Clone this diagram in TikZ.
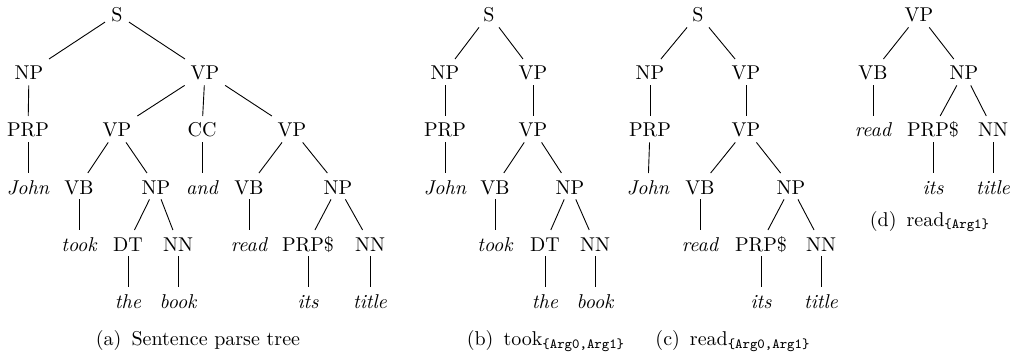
\documentclass[tikz,border=0pt]{standalone}
\usepackage{tikz}
\newcommand{\argsub}[1]{$_{\mbox{\fontsize{7}{8}\selectfont\ttfamily\{#1\}}}$}

\begin{document}
\begin{tikzpicture}[x=0.5pt,y=-0.5pt]
	\tikzset{
		tg/.style={anchor=base, inner xsep=3pt, inner ysep=2.5pt,
			text height=0.78em, text depth=0pt},
		wd/.style={tg, font=\itshape},
		br/.style={draw=black, line width=0.45pt},
		capt/.style={anchor=base, inner sep=0pt}
	}
	\useasboundingbox (0,0) rectangle (1012,358);

	% (a) sentence parse tree
	\node[tg] (aS) at (117,22) {S};
	\node[tg] (aNP) at (29,80) {NP};
	\node[tg] (aVP) at (205,80) {VP};
	\node[tg] (aPRP) at (28,137) {PRP};
	\node[tg] (aVPl) at (117,137) {VP};
	\node[tg] (aCC) at (202,137) {CC};
	\node[tg] (aVPr) at (292,137) {VP};
	\node[wd] (aJohn) at (28,194) {John};
	\node[tg] (aVBl) at (79,194) {VB};
	\node[tg] (aNPl) at (156,194) {NP};
	\node[wd] (aAnd) at (202,194) {and};
	\node[tg] (aVBr) at (249,194) {VB};
	\node[tg] (aNPr) at (338,194) {NP};
	\node[wd] (aTook) at (79,251) {took};
	\node[tg] (aDT) at (128,251) {DT};
	\node[tg] (aNNl) at (178,251) {NN};
	\node[wd] (aRead) at (249,251) {read};
	\node[tg] (aPRPS) at (308,251) {PRP\$};
	\node[tg] (aNNr) at (370,251) {NN};
	\node[wd] (aThe) at (128,308) {the};
	\node[wd] (aBook) at (178,308) {book};
	\node[wd] (aIts) at (308,308) {its};
	\node[wd] (aTitle) at (370,308) {title};

	\draw[br] (aS)--(aNP); \draw[br] (aS)--(aVP);
	\draw[br] (aNP)--(aPRP); \draw[br] (aPRP)--(aJohn);
	\draw[br] (aVP)--(aVPl); \draw[br] (aVP)--(aCC); \draw[br] (aVP)--(aVPr);
	\draw[br] (aVPl)--(aVBl); \draw[br] (aVPl)--(aNPl);
	\draw[br] (aVBl)--(aTook);
	\draw[br] (aNPl)--(aDT); \draw[br] (aNPl)--(aNNl);
	\draw[br] (aDT)--(aThe); \draw[br] (aNNl)--(aBook);
	\draw[br] (aCC)--(aAnd);
	\draw[br] (aVPr)--(aVBr); \draw[br] (aVPr)--(aNPr);
	\draw[br] (aVBr)--(aRead);
	\draw[br] (aNPr)--(aPRPS); \draw[br] (aNPr)--(aNNr);
	\draw[br] (aPRPS)--(aIts); \draw[br] (aNNr)--(aTitle);
	\node[capt] (capA) at (198,345) {(a)\enspace Sentence parse tree};

	% (b) took
	\node[tg] (bS) at (489,22) {S};
	\node[tg] (bNP) at (445,80) {NP};
	\node[tg] (bVP) at (533,80) {VP};
	\node[tg] (bPRP) at (445,137) {PRP};
	\node[tg] (bVPi) at (533,137) {VP};
	\node[wd] (bJohn) at (445,194) {John};
	\node[tg] (bVB) at (495,194) {VB};
	\node[tg] (bNPi) at (570,194) {NP};
	\node[wd] (bTook) at (495,251) {took};
	\node[tg] (bDT) at (545,251) {DT};
	\node[tg] (bNN) at (595,251) {NN};
	\node[wd] (bThe) at (545,308) {the};
	\node[wd] (bBook) at (595,308) {book};

	\draw[br] (bS)--(bNP); \draw[br] (bS)--(bVP);
	\draw[br] (bNP)--(bPRP); \draw[br] (bPRP)--(bJohn);
	\draw[br] (bVP)--(bVPi);
	\draw[br] (bVPi)--(bVB); \draw[br] (bVPi)--(bNPi);
	\draw[br] (bVB)--(bTook);
	\draw[br] (bNPi)--(bDT); \draw[br] (bNPi)--(bNN);
	\draw[br] (bDT)--(bThe); \draw[br] (bNN)--(bBook);
	\node[capt] (capB) at (546,345) {(b)\enspace took\argsub{Arg0,Arg1}};

	% (c) read, both args
	\node[tg] (cS) at (698,22) {S};
	\node[tg] (cNP) at (650,80) {NP};
	\node[tg] (cVP) at (746,80) {VP};
	\node[tg] (cPRP) at (650,137) {PRP};
	\node[tg] (cVPi) at (746,137) {VP};
	\node[wd] (cJohn) at (648,194) {John};
	\node[tg] (cVB) at (700,194) {VB};
	\node[tg] (cNPi) at (791,194) {NP};
	\node[wd] (cRead) at (700,251) {read};
	\node[tg] (cPRPS) at (761,251) {PRP\$};
	\node[tg] (cNN) at (821,251) {NN};
	\node[wd] (cIts) at (761,308) {its};
	\node[wd] (cTitle) at (821,308) {title};

	\draw[br] (cS)--(cNP); \draw[br] (cS)--(cVP);
	\draw[br] (cNP)--(cPRP); \draw[br] (cPRP)--(cJohn);
	\draw[br] (cVP)--(cVPi);
	\draw[br] (cVPi)--(cVB); \draw[br] (cVPi)--(cNPi);
	\draw[br] (cVB)--(cRead);
	\draw[br] (cNPi)--(cPRPS); \draw[br] (cNPi)--(cNN);
	\draw[br] (cPRPS)--(cIts); \draw[br] (cNN)--(cTitle);
	\node[capt] (capC) at (733,345) {(c)\enspace read\argsub{Arg0,Arg1}};

	% (d) read, Arg1 only
	\node[tg] (dVP) at (919,22) {VP};
	\node[tg] (dVB) at (873,80) {VB};
	\node[tg] (dNP) at (964,80) {NP};
	\node[wd] (dRead) at (873,137) {read};
	\node[tg] (dPRPS) at (933,137) {PRP\$};
	\node[tg] (dNN) at (993,137) {NN};
	\node[wd] (dIts) at (933,194) {its};
	\node[wd] (dTitle) at (993,194) {title};

	\draw[br] (dVP)--(dVB); \draw[br] (dVP)--(dNP);
	\draw[br] (dVB)--(dRead);
	\draw[br] (dNP)--(dPRPS); \draw[br] (dNP)--(dNN);
	\draw[br] (dPRPS)--(dIts); \draw[br] (dNN)--(dTitle);
	\node[capt] (capD) at (930,226) {(d)\enspace read\argsub{Arg1}};
\end{tikzpicture}
\end{document}
